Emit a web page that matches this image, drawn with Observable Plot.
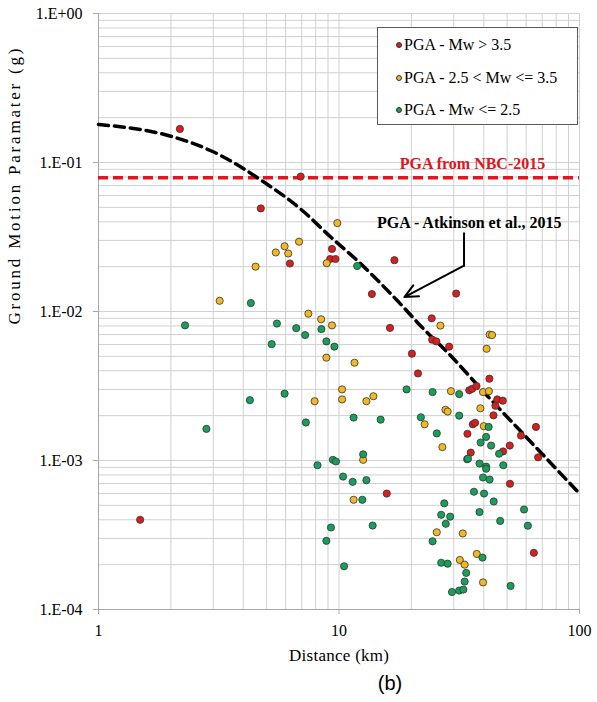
<!DOCTYPE html>
<html>
<head>
<meta charset="utf-8">
<script src="https://cdn.jsdelivr.net/npm/d3@7"></script>
<script src="https://cdn.jsdelivr.net/npm/@observablehq/plot@0.6"></script>
<style>
  body { margin: 0; background: #fff; }
  #wrap { position: relative; width: 597px; height: 702px; }
  #legend {
    position: absolute; left: 377px; top: 27px; width: 201px; height: 98px;
    box-sizing: border-box; border: 1px solid #5a5a5a; background: #fff;
    font-family: "Liberation Serif", "Times New Roman", serif; font-size: 16px; color: #000;
  }
  .lrow { position: absolute; left: 0; height: 20px; line-height: 20px; white-space: nowrap; }
  .lrow span.m { position: absolute; left: 18px; top: 7px; width: 6px; height: 6px; border-radius: 50%; box-sizing: border-box; border: 0.6px solid #333; }
  .lrow span.t { position: absolute; left: 26px; top: 0; }
</style>
</head>
<body>
<div id="wrap"></div>
<script>
// ---- Data ----
const redX = [1.49, 2.18, 4.73, 6.25, 6.93, 9.35, 9.19, 9.67, 17.0, 13.7, 30.7, 24.3, 16.3, 24.4, 25.4, 28.7, 20.1, 21.3, 42.2, 34.8, 35.8, 37.3, 45.5, 48.0, 44.7, 43.9, 36.0, 36.8, 65.9, 34.2, 57.1, 51.3, 35.3, 48.1, 67.3, 51.4, 15.8, 64.6];
const redY = [0.00040, 0.168, 0.0492, 0.0210, 0.0805, 0.0263, 0.0225, 0.0225, 0.0221, 0.0131, 0.0132, 0.0090, 0.00776, 0.00647, 0.00630, 0.00581, 0.00521, 0.00384, 0.00354, 0.00296, 0.00303, 0.00316, 0.00257, 0.00252, 0.00233, 0.00201, 0.00175, 0.00179, 0.00168, 0.00151, 0.00147, 0.00126, 0.00113, 0.00115, 0.00105, 0.000698, 0.000600, 0.000240];

const yellowX = [3.19, 4.50, 5.46, 5.94, 6.15, 6.82, 9.84, 8.89, 7.46, 8.43, 9.35, 8.86, 11.6, 26.4, 42.3, 43.3, 41.1, 10.3, 10.3, 7.92, 13.0, 13.9, 29.2, 39.7, 42.0, 38.7, 27.7, 28.3, 22.7, 40.0, 26.9, 12.6, 11.5, 25.5, 32.7, 37.4, 31.8, 33.3, 39.7];
const yellowY = [0.0118, 0.0200, 0.0249, 0.0274, 0.0245, 0.0294, 0.0392, 0.0211, 0.00967, 0.00887, 0.00807, 0.00490, 0.00453, 0.00804, 0.00700, 0.00695, 0.00562, 0.00300, 0.00257, 0.00250, 0.00250, 0.00270, 0.00292, 0.00288, 0.00292, 0.00224, 0.00219, 0.00213, 0.00175, 0.00170, 0.00123, 0.00101, 0.000545, 0.000330, 0.000324, 0.000236, 0.000215, 0.000200, 0.000152];

const greenX = [2.29, 2.81, 4.30, 4.26, 5.25, 5.52, 5.94, 6.64, 7.23, 7.28, 8.45, 8.86, 9.57, 11.9, 8.14, 9.43, 9.71, 10.4, 11.4, 12.6, 13.0, 11.5, 14.9, 12.5, 9.26, 8.86, 10.5, 13.8, 19.1, 24.5, 31.6, 21.9, 31.6, 41.9, 25.5, 40.9, 38.8, 42.9, 46.3, 34.1, 34.4, 38.4, 40.9, 40.9, 48.2, 39.7, 42.3, 36.4, 40.1, 27.4, 44.0, 58.8, 38.4, 26.6, 29.0, 46.8, 27.8, 61.0, 24.5, 39.5, 26.6, 28.3, 33.8, 33.3, 51.7, 29.5, 31.6, 32.9];
const greenY = [0.00807, 0.00163, 0.0114, 0.00254, 0.00604, 0.00830, 0.00281, 0.00773, 0.00695, 0.00180, 0.00762, 0.00630, 0.00581, 0.0202, 0.000929, 0.00101, 0.000985, 0.000780, 0.000719, 0.00110, 0.000738, 0.00194, 0.00188, 0.000545, 0.000355, 0.000289, 0.000195, 0.000366, 0.00300, 0.00288, 0.00279, 0.00195, 0.00200, 0.00168, 0.00152, 0.00144, 0.00132, 0.00126, 0.00111, 0.00102, 0.00103, 0.000954, 0.000910, 0.000880, 0.000929, 0.000769, 0.000745, 0.000617, 0.000600, 0.000516, 0.000531, 0.000469, 0.000451, 0.000432, 0.000420, 0.000393, 0.000376, 0.000365, 0.000287, 0.000223, 0.000206, 0.000203, 0.000176, 0.000154, 0.000144, 0.000131, 0.000134, 0.000136];

// Atkinson et al., 2015 curve
const atkX = [1, 2, 3, 4.87, 7, 9.24, 11.9, 17.5, 22.2, 28.3, 41.5, 62.8, 100];
const atkY = [0.180, 0.150, 0.118, 0.074, 0.048, 0.0316, 0.0220, 0.0118, 0.0078, 0.0053, 0.0027, 0.00133, 0.00060];

// NBC-2015 PGA level
const nbcPGA = 0.079;

// Annotation arrow path (distance, g)
const arrowX = [33.1, 33.1, 18.7];
const arrowY = [0.0335, 0.0203, 0.0125];

const xTicks = [1, 10, 100];
const xTickLabels = ["1", "10", "100"];
const yTicks = [1e-4, 1e-3, 1e-2, 1e-1, 1];
const yTickLabels = ["1.E-04", "1.E-03", "1.E-02", "1.E-01", "1.E+00"];

const seriesLabels = ["PGA - Mw > 3.5", "PGA - 2.5 < Mw <= 3.5", "PGA - Mw <= 2.5"];
const seriesColors = ["#d81e1e", "#f2b824", "#17a05a"];

const xTitle = "Distance (km)";
const yTitle = "Ground Motion Paramater (g)";
const nbcLabel = "PGA from NBC-2015";
const atkLabel = "PGA - Atkinson et al., 2015";
const panelLabel = "(b)";

// ---- Build tables ----
const toRows = (xs, ys) => xs.map((x, i) => ({x, y: ys[i]}));
const red = toRows(redX, redY);
const yellow = toRows(yellowX, yellowY);
const green = toRows(greenX, greenY);
const atk = toRows(atkX, atkY);
const arrowPath = toRows(arrowX, arrowY);

const xGrid = d3.scaleLog().domain([1, 100]).ticks();
const yGrid = d3.scaleLog().domain([1e-4, 1]).ticks();

const serif = "'Liberation Serif', 'Times New Roman', serif";
const gridColor = "#d0d0d0";
const axisColor = "#a8a8a8";
const dotOpts = {x: "x", y: "y", r: 3.6, stroke: "#333", strokeWidth: 0.8};

const chart = Plot.plot({
  width: 597,
  height: 702,
  marginLeft: 98,
  marginRight: 18,
  marginTop: 13,
  marginBottom: 93,
  x: {type: "log", domain: [1, 100]},
  y: {type: "log", domain: [1e-4, 1]},
  style: {fontFamily: serif, fontSize: "16px", background: "#fff", color: "#000", overflow: "visible"},
  marks: [
    Plot.gridX(xGrid, {stroke: gridColor, strokeOpacity: 1}),
    Plot.gridY(yGrid, {stroke: gridColor, strokeOpacity: 1}),
    Plot.ruleX([1], {stroke: axisColor}),
    Plot.ruleY([1e-4], {stroke: axisColor}),
    Plot.axisX(xTicks, {
      tickFormat: d => xTickLabels[xTicks.indexOf(d)],
      tickSize: 5, tickPadding: 10, stroke: axisColor, fill: "#000",
      fontSize: 16, fontFamily: serif, label: null
    }),
    Plot.axisY(yTicks, {
      tickFormat: d => yTickLabels[yTicks.indexOf(d)],
      tickSize: 5, tickPadding: 11, stroke: axisColor, fill: "#000",
      fontSize: 16, fontFamily: serif, label: null
    }),
    // reference lines
    Plot.ruleY([nbcPGA], {stroke: "#e8141c", strokeWidth: 3.5, strokeDasharray: "10,5"}),
    Plot.line(atk, {x: "x", y: "y", curve: "monotone-x", stroke: "#000", strokeWidth: 3.5, strokeDasharray: "10,6"}),
    // data points
    Plot.dot(red, {...dotOpts, fill: seriesColors[0]}),
    Plot.dot(yellow, {...dotOpts, fill: seriesColors[1]}),
    Plot.dot(green, {...dotOpts, fill: seriesColors[2]}),
    // annotations
    Plot.text([nbcLabel], {text: d => d, x: 35.9, y: 0.098, fill: "#e0141c", fontWeight: "bold", fontSize: 16, fontFamily: serif, textAnchor: "middle", lineAnchor: "middle"}),
    Plot.text([atkLabel], {text: d => d, x: 34.8, y: 0.0392, fill: "#000", fontWeight: "bold", fontSize: 16, fontFamily: serif, textAnchor: "middle", lineAnchor: "middle"}),
    Plot.line(arrowPath.slice(0, 2), {x: "x", y: "y", stroke: "#000", strokeWidth: 2}),
    Plot.arrow([0], {x1: arrowX[1], y1: arrowY[1], x2: arrowX[2], y2: arrowY[2], stroke: "#000", strokeWidth: 2, headLength: 11, headAngle: 50}),
    // titles
    Plot.text([xTitle], {text: d => d, frameAnchor: "bottom", dy: 51, lineAnchor: "bottom", fontSize: 17, fontFamily: serif, fill: "#000"}),
    Plot.text([yTitle], {text: d => d, frameAnchor: "left", dx: -84, dy: 13, rotate: -90, lineAnchor: "middle", fontSize: 17, fontFamily: serif, fill: "#000"}),
    Plot.text([panelLabel], {text: d => d, frameAnchor: "bottom", dx: 51, dy: 80, lineAnchor: "bottom", fontSize: 20, fontFamily: "'Liberation Sans', Arial, sans-serif", fill: "#000"})
  ]
});

const svg = d3.select(chart);
svg.selectAll("text").filter(function () { return this.textContent === xTitle; })
  .attr("textLength", 100).attr("lengthAdjust", "spacing");
svg.selectAll("text").filter(function () { return this.textContent === yTitle; })
  .attr("textLength", 276).attr("lengthAdjust", "spacing");

const wrap = document.getElementById("wrap");
wrap.appendChild(chart);

// legend overlay
const legend = document.createElement("div");
legend.id = "legend";
const rowCenters = [17, 49.5, 82];
seriesLabels.forEach((lab, i) => {
  const row = document.createElement("div");
  row.className = "lrow";
  row.style.top = (rowCenters[i] - 10) + "px";
  const m = document.createElement("span");
  m.className = "m";
  m.style.background = seriesColors[i];
  const t = document.createElement("span");
  t.className = "t";
  t.textContent = lab;
  row.appendChild(m);
  row.appendChild(t);
  legend.appendChild(row);
});
wrap.appendChild(legend);
</script>
</body>
</html>
